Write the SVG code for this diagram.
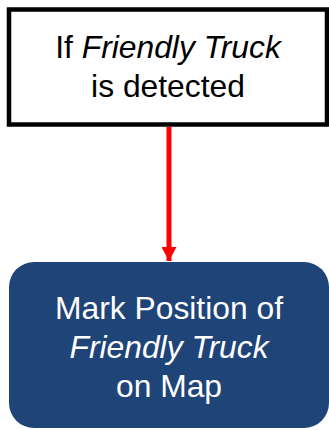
<svg xmlns="http://www.w3.org/2000/svg" width="329" height="430" viewBox="0 0 329 430">
  <style>
    .lbl { font-family: "Liberation Sans", Arial, sans-serif; font-size: 31.8px; text-anchor: middle; }
    .dark { fill: #000000; }
    .light { fill: #ffffff; }
    .it { font-style: italic; }
  </style>
  <defs>
    <marker id="arrowRed" markerUnits="userSpaceOnUse" markerWidth="16" markerHeight="15" refX="15" refY="8" orient="auto" viewBox="0 0 15 16">
      <path d="M0,0 L15,8 L0,16 Z" fill="#ff0000"/>
    </marker>
  </defs>

  <rect width="329" height="430" fill="#ffffff"/>

  <g id="connectors">
    <line x1="169" y1="127" x2="169" y2="261" stroke="#ff0000" stroke-width="5" marker-end="url(#arrowRed)"/>
  </g>

  <g id="condition">
    <rect x="9" y="9.5" width="318" height="115" fill="#ffffff" stroke="#000000" stroke-width="4.5"/>
    <text class="lbl dark" x="168" y="58.3">If <tspan class="it">Friendly Truck</tspan></text>
    <text class="lbl dark" x="168" y="96.7">is detected</text>
  </g>

  <g id="action">
    <rect x="9" y="262" width="320" height="166" rx="25" ry="25" fill="#1f4477"/>
    <text class="lbl light" x="169" y="319.3">Mark Position of</text>
    <text class="lbl light it" x="169" y="357.8">Friendly Truck</text>
    <text class="lbl light" x="169" y="396.5">on Map</text>
  </g>
</svg>
